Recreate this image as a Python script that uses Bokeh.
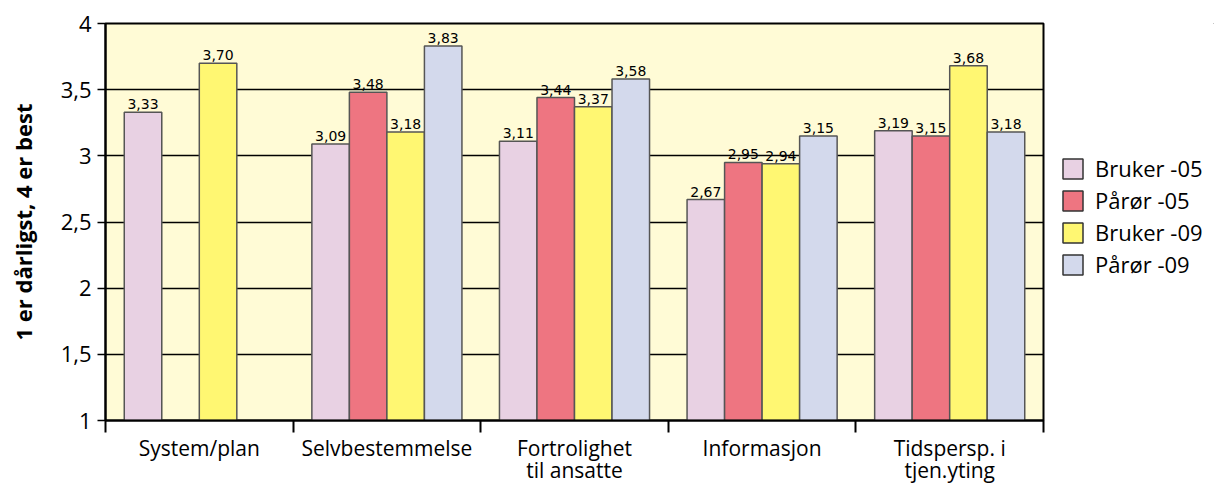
import numpy as np
from bokeh.plotting import figure
from bokeh.layouts import row
from bokeh.models import ColumnDataSource, FixedTicker, Legend, LegendItem, Range1d
from bokeh.transform import dodge
from bokeh.core.properties import value
from bokeh.embed import file_html
from bokeh.resources import INLINE

categories = ["System/plan", "Selvbestemmelse", "Fortrolighet\ntil ansatte", "Informasjon", "Tidspersp. i\ntjen.yting"]
series = ["Bruker -05", "Pårør -05", "Bruker -09", "Pårør -09"]
bruker_05 = [3.33, 3.09, 3.11, 2.67, 3.19]
paror_05 = [np.nan, 3.48, 3.44, 2.95, 3.15]
bruker_09 = [3.70, 3.18, 3.37, 2.94, 3.68]
paror_09 = [np.nan, 3.83, 3.58, 3.15, 3.18]
y_ticks = [1, 1.5, 2, 2.5, 3, 3.5, 4]
y_tick_labels = ["1", "1,5", "2", "2,5", "3", "3,5", "4"]
colors = ["#E8D1E3", "#EE7581", "#FFF772", "#D3D9EC"]

values = [bruker_05, paror_05, bruker_09, paror_09]

FONT = "Open Sans"

p = figure(width=1045, height=487, output_backend="svg", toolbar_location=None,
           x_range=Range1d(0, 5), y_range=Range1d(1, 4),
           min_border_left=105, min_border_top=23, min_border_bottom=0, min_border_right=2)
p.background_fill_color = "#FFFBD6"
p.border_fill_color = "white"
p.outline_line_color = "black"
p.outline_line_width = 2

bar_w = 0.2
renderers = []
for i, (name, vals, col) in enumerate(zip(series, values, colors)):
    vals = np.array(vals, dtype=float)
    idx = np.arange(len(categories)) + 0.5
    mask = ~np.isnan(vals)
    src = ColumnDataSource(dict(
        x=idx[mask], top=vals[mask],
        label=[f"{v:.2f}".replace(".", ",") for v in vals[mask]]))
    off = (i - 1.5) * bar_w
    r = p.vbar(x=dodge("x", off, range=p.x_range), top="top", bottom=1, width=bar_w,
               source=src, fill_color=col, line_color="#555555", line_width=1.5)
    renderers.append(r)
    p.text(x=dodge("x", off, range=p.x_range), y="top", text="label", source=src,
           text_align="center", text_baseline="bottom", y_offset=-3,
           text_font=value("DejaVu Sans"), text_font_size="14px", text_color="black")

# grid
p.xgrid.visible = False
p.ygrid.ticker = FixedTicker(ticks=y_ticks)
p.ygrid.grid_line_color = "black"
p.ygrid.grid_line_width = 1.5

# y axis
ya = p.yaxis[0]
ya.ticker = FixedTicker(ticks=y_ticks)
ya.major_label_overrides = {t: l for t, l in zip(y_ticks, y_tick_labels)}
ya.major_tick_out = 8
ya.major_tick_in = 0
ya.minor_tick_line_color = None
ya.axis_line_width = 2
ya.major_tick_line_width = 1.5
ya.major_label_standoff = 6
ya.major_label_text_font = FONT
ya.major_label_text_font_size = "22px"
ya.major_label_text_color = "black"
ya.axis_label = "1 er dårligst, 4 er best"
ya.axis_label_text_font = FONT
ya.axis_label_text_font_style = "bold"
ya.axis_label_text_font_size = "22px"
ya.axis_label_text_color = "black"
ya.axis_label_standoff = 20

# x axis
xa = p.xaxis[0]
centers = [i + 0.5 for i in range(len(categories))]
xa.ticker = FixedTicker(ticks=centers, minor_ticks=list(range(len(categories) + 1)))
xa.major_label_overrides = {c: l for c, l in zip(centers, categories)}
xa.major_tick_line_color = None
xa.major_tick_out = 0
xa.major_tick_in = 0
xa.minor_tick_out = 12
xa.minor_tick_in = 0
xa.minor_tick_line_width = 2
xa.minor_tick_line_color = "black"
xa.axis_line_width = 2
xa.major_label_standoff = 1
xa.major_label_text_font = FONT
xa.major_label_text_font_size = "21px"
xa.major_label_text_color = "black"
xa.major_label_text_line_height = 0.82

# legend in a side figure
p2 = figure(width=169, height=487, output_backend="svg", toolbar_location=None,
            x_range=Range1d(0, 1), y_range=Range1d(0, 1),
            min_border_left=0, min_border_right=0, min_border_top=23, min_border_bottom=0)
p2.axis.visible = False
p2.grid.visible = False
p2.outline_line_color = None
p2.background_fill_color = None
p2.border_fill_color = None
leg_renderers = []
for name, col in zip(series, colors):
    lr = p2.vbar(x=[50], top=[60], bottom=50, width=0.1, fill_color=col,
                 line_color="#333333", line_width=1.5)
    leg_renderers.append(lr)
legend = Legend(items=[LegendItem(label=s, renderers=[r]) for s, r in zip(series, leg_renderers)],
                location=(15, 141), glyph_width=25, glyph_height=25, spacing=2,
                label_text_font=FONT, label_text_font_size="22px", label_standoff=10,
                label_text_color="black", label_height=24,
                border_line_color=None, background_fill_alpha=0, padding=0, margin=0)
p2.add_layout(legend, "center")

layout = row(p, p2)
open("out.html", "w").write(file_html(layout, INLINE))
